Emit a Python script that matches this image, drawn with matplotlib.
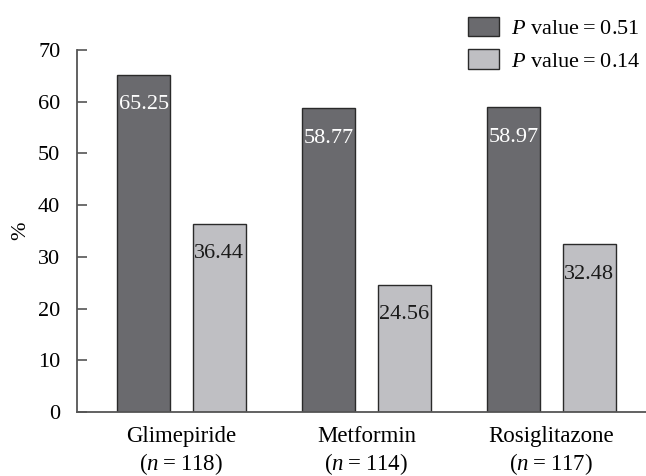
import numpy as np
import matplotlib.pyplot as plt
from matplotlib.patches import Patch

plt.rcParams['font.family'] = 'Liberation Serif'
plt.rcParams['mathtext.fontset'] = 'custom'
plt.rcParams['mathtext.rm'] = 'Liberation Serif'
plt.rcParams['mathtext.it'] = 'Liberation Serif:italic'

# data
drugs = ['Glimepiride', 'Metformin', 'Rosiglitazone']
n_counts = [118, 114, 117]
series_dark = [65.25, 58.77, 58.97]
series_light = [36.44, 24.56, 32.48]
legend_labels = ['$P$ value\u2009=\u20090.51', '$P$ value\u2009=\u20090.14']

dark = '#6a6a6e'
light = '#bfbfc3'
edge = '#2a2a2a'
fs = 16

fig = plt.figure(figsize=(6.46, 4.76), dpi=100)
ax = fig.add_axes([77 / 646, 1 - 412 / 476, 1 - 77 / 646, 362 / 476])

x = np.arange(len(drugs))
w = 0.286
off = 0.204
b1 = ax.bar(x - off, series_dark, w, color=dark, edgecolor=edge, linewidth=1)
b2 = ax.bar(x + off, series_light, w, color=light, edgecolor=edge, linewidth=1)

# value labels inside the bars, just under the top
for bars, vals, c in [(b1, series_dark, 'white'), (b2, series_light, '#1a1a1a')]:
    for rect, v in zip(bars, vals):
        ax.annotate(f'{v:.2f}', (rect.get_x() + rect.get_width() / 2, v),
                    xytext=(0, -30), textcoords='offset pixels',
                    ha='center', va='center', color=c, fontsize=fs)

ax.set_xlim(-0.565, 2.511)
ax.set_ylim(0, 70)
ax.set_yticks(range(0, 71, 10))
ax.set_xticks(x)
ax.set_xticklabels([f'{d}\n($n$\u2009=\u2009{n})' for d, n in zip(drugs, n_counts)],
                   fontsize=fs + 0.5, linespacing=1.22)
ax.tick_params(axis='x', length=0, pad=10)
ax.tick_params(axis='y', direction='in', length=7, width=1.2, labelsize=fs, pad=12,
               color='#555555')
ax.set_ylabel('%', fontsize=fs, labelpad=6)

for s in ['top', 'right']:
    ax.spines[s].set_visible(False)
for s in ['left', 'bottom']:
    ax.spines[s].set_linewidth(1.3)
    ax.spines[s].set_color('#555555')

handles = [Patch(facecolor=dark, edgecolor=edge), Patch(facecolor=light, edgecolor=edge)]
fig.legend(handles, legend_labels, loc='upper left', bbox_to_anchor=(452 / 646, 1 - 1 / 476),
           frameon=False, fontsize=fs, handlelength=1.4, handleheight=1.0,
           handletextpad=0.55, labelspacing=0.45, borderpad=0.2)

plt.savefig('out.png', dpi=100)
